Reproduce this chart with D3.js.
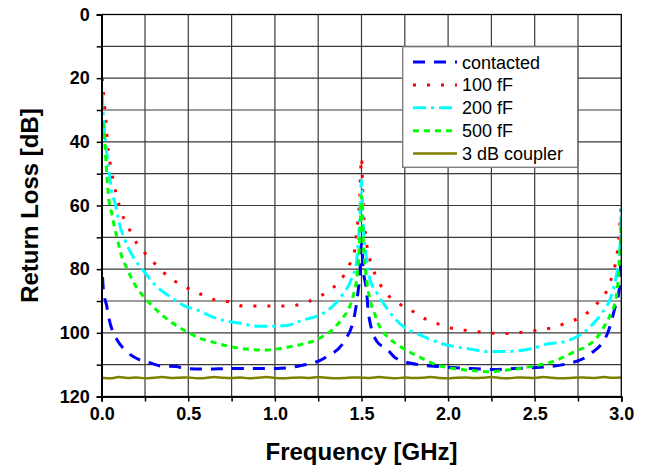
<!DOCTYPE html>
<html lang="en">
  <head>
    <meta charset="utf-8" />
    <script src="https://d3js.org/d3.v7.min.js"></script>
    <style>
      body { margin: 0; background: #fff; }
      text { font-family: Arial, "Liberation Sans", sans-serif; }
    </style>
  </head>
  <body>
    <svg id="chart" width="648" height="466"></svg>
    <script>
    // values: [GHz, dB]
    var contacted = [
      [0.005, 82.5], [0.01, 86.6], [0.03, 91.8], [0.038, 94.4], [0.06, 99.1], [0.09, 102.3],
      [0.15, 106.2], [0.2, 108], [0.29, 109.6], [0.34, 110.4], [0.43, 110.6], [0.48, 111.2],
      [0.6, 111.4], [0.75, 111.2], [0.9, 111.2], [1.01, 111.2], [1.15, 110.3], [1.29, 107.8],
      [1.405, 102.3], [1.46, 94.4], [1.48, 87.1], [1.49, 82], [1.5, 72], [1.51, 80],
      [1.53, 87.1], [1.54, 93.9], [1.59, 102.8], [1.645, 105], [1.7, 108], [1.84, 110.1],
      [1.95, 110.6], [2.13, 111.2], [2.26, 111.5], [2.38, 111.2], [2.53, 110.8], [2.68, 109.8],
      [2.82, 106.7], [2.92, 100.2], [2.96, 92.8], [2.99, 85.5], [3.0, 72]
    ];
    var fF100 = [
      [0.003, 20], [0.01, 24.7], [0.025, 34], [0.038, 43], [0.052, 47.8], [0.067, 52.4],
      [0.087, 57], [0.11, 61.7], [0.15, 66.3], [0.19, 70.8], [0.25, 75], [0.32, 79],
      [0.39, 82.6], [0.48, 85.5], [0.56, 87.6], [0.645, 89.5], [0.73, 90.2], [0.82, 91.6],
      [0.9, 91.6], [0.99, 91.6], [1.07, 91.6], [1.15, 91], [1.23, 89.3], [1.31, 86.8],
      [1.38, 83.4], [1.43, 78.7], [1.46, 74.2], [1.47, 69.5], [1.49, 57], [1.5, 45],
      [1.51, 60], [1.53, 72], [1.55, 77.3], [1.58, 81.8], [1.63, 86.7], [1.71, 90.6],
      [1.8, 93.4], [1.87, 95.7], [1.96, 97.5], [2.04, 98.8], [2.12, 99.3], [2.2, 99.8],
      [2.29, 100.2], [2.37, 100.2], [2.45, 99.6], [2.53, 99.1], [2.61, 98.3], [2.69, 96.7],
      [2.78, 94.7], [2.85, 91.3], [2.92, 86.3], [2.95, 81.5], [2.97, 77.1], [2.985, 70.8],
      [3.0, 58.5]
    ];
    var fF200 = [
      [0.003, 25], [0.01, 32], [0.03, 43.8], [0.048, 51.7], [0.063, 57.3], [0.07, 58],
      [0.107, 66.7], [0.134, 70.8], [0.18, 76], [0.246, 80.8], [0.308, 85], [0.394, 88.6],
      [0.48, 91.6], [0.55, 92.8], [0.635, 94.9], [0.72, 96.3], [0.8, 97], [0.895, 97.9],
      [0.99, 97.9], [1.07, 97.7], [1.16, 96], [1.25, 94.6], [1.33, 91.8], [1.39, 88.1],
      [1.44, 83.4], [1.47, 78.2], [1.48, 72.4], [1.49, 64], [1.5, 52], [1.51, 66],
      [1.53, 77], [1.545, 82.4], [1.59, 87.6], [1.64, 91.8], [1.71, 96.5], [1.79, 99.6],
      [1.84, 100.7], [1.97, 103.5], [2.07, 104.6], [2.16, 105.4], [2.22, 105.9], [2.32, 105.9],
      [2.41, 105.6], [2.49, 104.9], [2.57, 103.5], [2.67, 102.8], [2.75, 101], [2.82, 98.1],
      [2.89, 93.6], [2.94, 88.7], [2.97, 82.4], [2.99, 75], [3.0, 60.5]
    ];
    var fF500 = [
      [0.005, 33.8], [0.015, 37.5], [0.019, 41], [0.023, 44.9], [0.027, 48.2], [0.031, 51.7],
      [0.036, 55.1], [0.042, 58.5], [0.058, 62.5], [0.071, 66.1], [0.087, 69.8], [0.116, 76.1],
      [0.145, 79.7], [0.177, 83.4], [0.215, 86.8], [0.269, 90.2], [0.327, 93.4], [0.385, 96],
      [0.448, 98.3], [0.51, 100.2], [0.567, 101.7], [0.635, 102.8], [0.702, 103.8], [0.77, 104.6],
      [0.837, 105.1], [0.95, 105.4], [1.03, 104.9], [1.14, 103.8], [1.21, 102.8], [1.28, 101],
      [1.34, 98.6], [1.39, 95.4], [1.43, 92], [1.45, 88.7], [1.47, 83.9], [1.48, 79.2],
      [1.49, 70], [1.5, 57], [1.51, 71], [1.53, 83.4], [1.55, 89.7], [1.575, 93.9],
      [1.6, 97.5], [1.645, 101], [1.71, 103.8], [1.78, 106.1], [1.85, 108], [1.91, 109.6],
      [2.03, 111.2], [2.15, 111.9], [2.24, 112.2], [2.34, 111.7], [2.48, 110.6], [2.57, 109.6],
      [2.63, 108.5], [2.68, 107.3], [2.73, 105.9], [2.8, 104.2], [2.86, 101.4], [2.9, 98.1],
      [2.94, 93.9], [2.97, 89.2], [2.98, 84.5], [2.99, 77.1], [3.0, 65]
    ];
    // 3 dB coupler, every 0.05 GHz
    var couplerDB = [
      114.1, 114.3, 113.9, 114.2, 114.0, 114.3, 114.1, 113.9, 114.2, 114.1,
      114.0, 114.3, 114.2, 113.9, 114.1, 114.2, 114.0, 114.3, 114.1, 113.9,
      114.2, 114.3, 114.1, 114.0, 114.2, 113.9, 114.1, 114.3, 114.2, 114.0,
      114.1, 114.2, 113.9, 114.1, 114.3, 114.0, 114.2, 114.1, 113.9, 114.2,
      114.3, 114.1, 114.0, 114.2, 114.1, 113.9, 114.2, 114.3, 114.0, 114.1,
      114.2, 113.9, 114.1, 114.3, 114.2, 114.0, 114.1, 114.2, 113.9, 114.1, 114.0
    ];
    var coupler = couplerDB.map(function(v, i) { return [i * 0.05, v]; });

    var xTicks = [0, 0.5, 1.0, 1.5, 2.0, 2.5, 3.0];
    var yTicks = [0, 20, 40, 60, 80, 100, 120];
    var seriesNames = ["contacted", "100 fF", "200 fF", "500 fF", "3 dB coupler"];

    var svg = d3.select("#chart");
    var pLeft = 101.7, pTop = 14.5, pRight = 621.3, pBottom = 396.5;

    var x = d3.scaleLinear().domain([0, 3]).range([pLeft, pRight]);
    var y = d3.scaleLinear().domain([0, 120]).range([pTop, pBottom]);

    // grid
    var grid = svg.append("g").attr("stroke", "#3a3a3a").attr("stroke-width", 1.2);
    d3.range(0.25, 3, 0.25).forEach(function(v) {
      grid.append("line").attr("x1", x(v)).attr("x2", x(v)).attr("y1", pTop).attr("y2", pBottom);
    });
    d3.range(10, 120, 10).forEach(function(v) {
      grid.append("line").attr("x1", pLeft).attr("x2", pRight).attr("y1", y(v)).attr("y2", y(v));
    });

    // curves
    svg.append("clipPath").attr("id", "clip").append("rect")
      .attr("x", pLeft).attr("y", pTop).attr("width", pRight - pLeft).attr("height", pBottom - pTop);

    var line = d3.line()
      .x(function(d) { return x(d[0]); })
      .y(function(d) { return y(d[1]); })
      .curve(d3.curveMonotoneX);

    var styles = [
      { data: contacted, color: "#0000ff", dash: "12,9", width: 3 },
      { data: fF100, color: "#ff0000", dash: "3,11", width: 3 },
      { data: fF200, color: "#00ffff", dash: "13,5,3,5", width: 3 },
      { data: fF500, color: "#00ff00", dash: "6,5", width: 3 },
      { data: coupler, color: "#808000", dash: null, width: 2.5 }
    ];

    var plot = svg.append("g").attr("clip-path", "url(#clip)");
    styles.forEach(function(s) {
      plot.append("path")
        .attr("d", line(s.data))
        .attr("fill", "none")
        .attr("stroke", s.color)
        .attr("stroke-width", s.width)
        .attr("stroke-dasharray", s.dash);
    });

    // frame
    svg.append("rect")
      .attr("x", pLeft).attr("y", pTop).attr("width", pRight - pLeft).attr("height", pBottom - pTop)
      .attr("fill", "none").attr("stroke", "#000").attr("stroke-width", 1.3);

    // axes
    var xAxis = d3.axisBottom(x).tickValues(xTicks).tickFormat(d3.format(".1f")).tickSize(5).tickPadding(6);
    var xMinor = d3.axisBottom(x).tickValues(d3.range(0.25, 3, 0.5)).tickFormat("").tickSize(5);
    var yAxis = d3.axisLeft(y).tickValues(yTicks).tickFormat(d3.format("d")).tickSize(5).tickPadding(7);
    var yMinor = d3.axisLeft(y).tickValues(d3.range(10, 120, 20)).tickFormat("").tickSize(5);

    [[xAxis, "b"], [xMinor, "b"], [yAxis, "l"], [yMinor, "l"]].forEach(function(a) {
      var g = svg.append("g")
        .attr("transform", a[1] == "b" ? "translate(0," + pBottom + ")" : "translate(" + pLeft + ",0)")
        .call(a[0]);
      g.select(".domain").attr("stroke-width", 1.6);
      g.selectAll(".tick line").attr("stroke-width", 1.5);
      g.selectAll("text").attr("font-size", 18).attr("font-weight", "bold")
        .attr("font-family", "Arial, 'Liberation Sans', sans-serif").attr("fill", "#000");
    });

    // axis titles
    svg.append("text")
      .attr("x", (pLeft + pRight) / 2).attr("y", 460)
      .attr("text-anchor", "middle").attr("font-size", 24).attr("font-weight", "bold")
      .text("Frequency [GHz]");
    svg.append("text")
      .attr("transform", "translate(38," + (pTop + pBottom) / 2 + ") rotate(-90)")
      .attr("text-anchor", "middle").attr("font-size", 24).attr("font-weight", "bold")
      .text("Return Loss [dB]");

    // legend
    var legend = svg.append("g");
    legend.append("rect")
      .attr("x", 402.7).attr("y", 46.7).attr("width", 175).attr("height", 120.6)
      .attr("fill", "#fff").attr("stroke", "#777").attr("stroke-width", 1.3);
    seriesNames.forEach(function(name, i) {
      var ly = 62 + i * 22.9;
      legend.append("line")
        .attr("x1", 413).attr("x2", 457).attr("y1", ly).attr("y2", ly)
        .attr("stroke", styles[i].color).attr("stroke-width", styles[i].width)
        .attr("stroke-dasharray", styles[i].dash);
      legend.append("text")
        .attr("x", 462).attr("y", ly + 6.5).attr("font-size", 18)
        .text(name);
    });
    </script>
  </body>
</html>
